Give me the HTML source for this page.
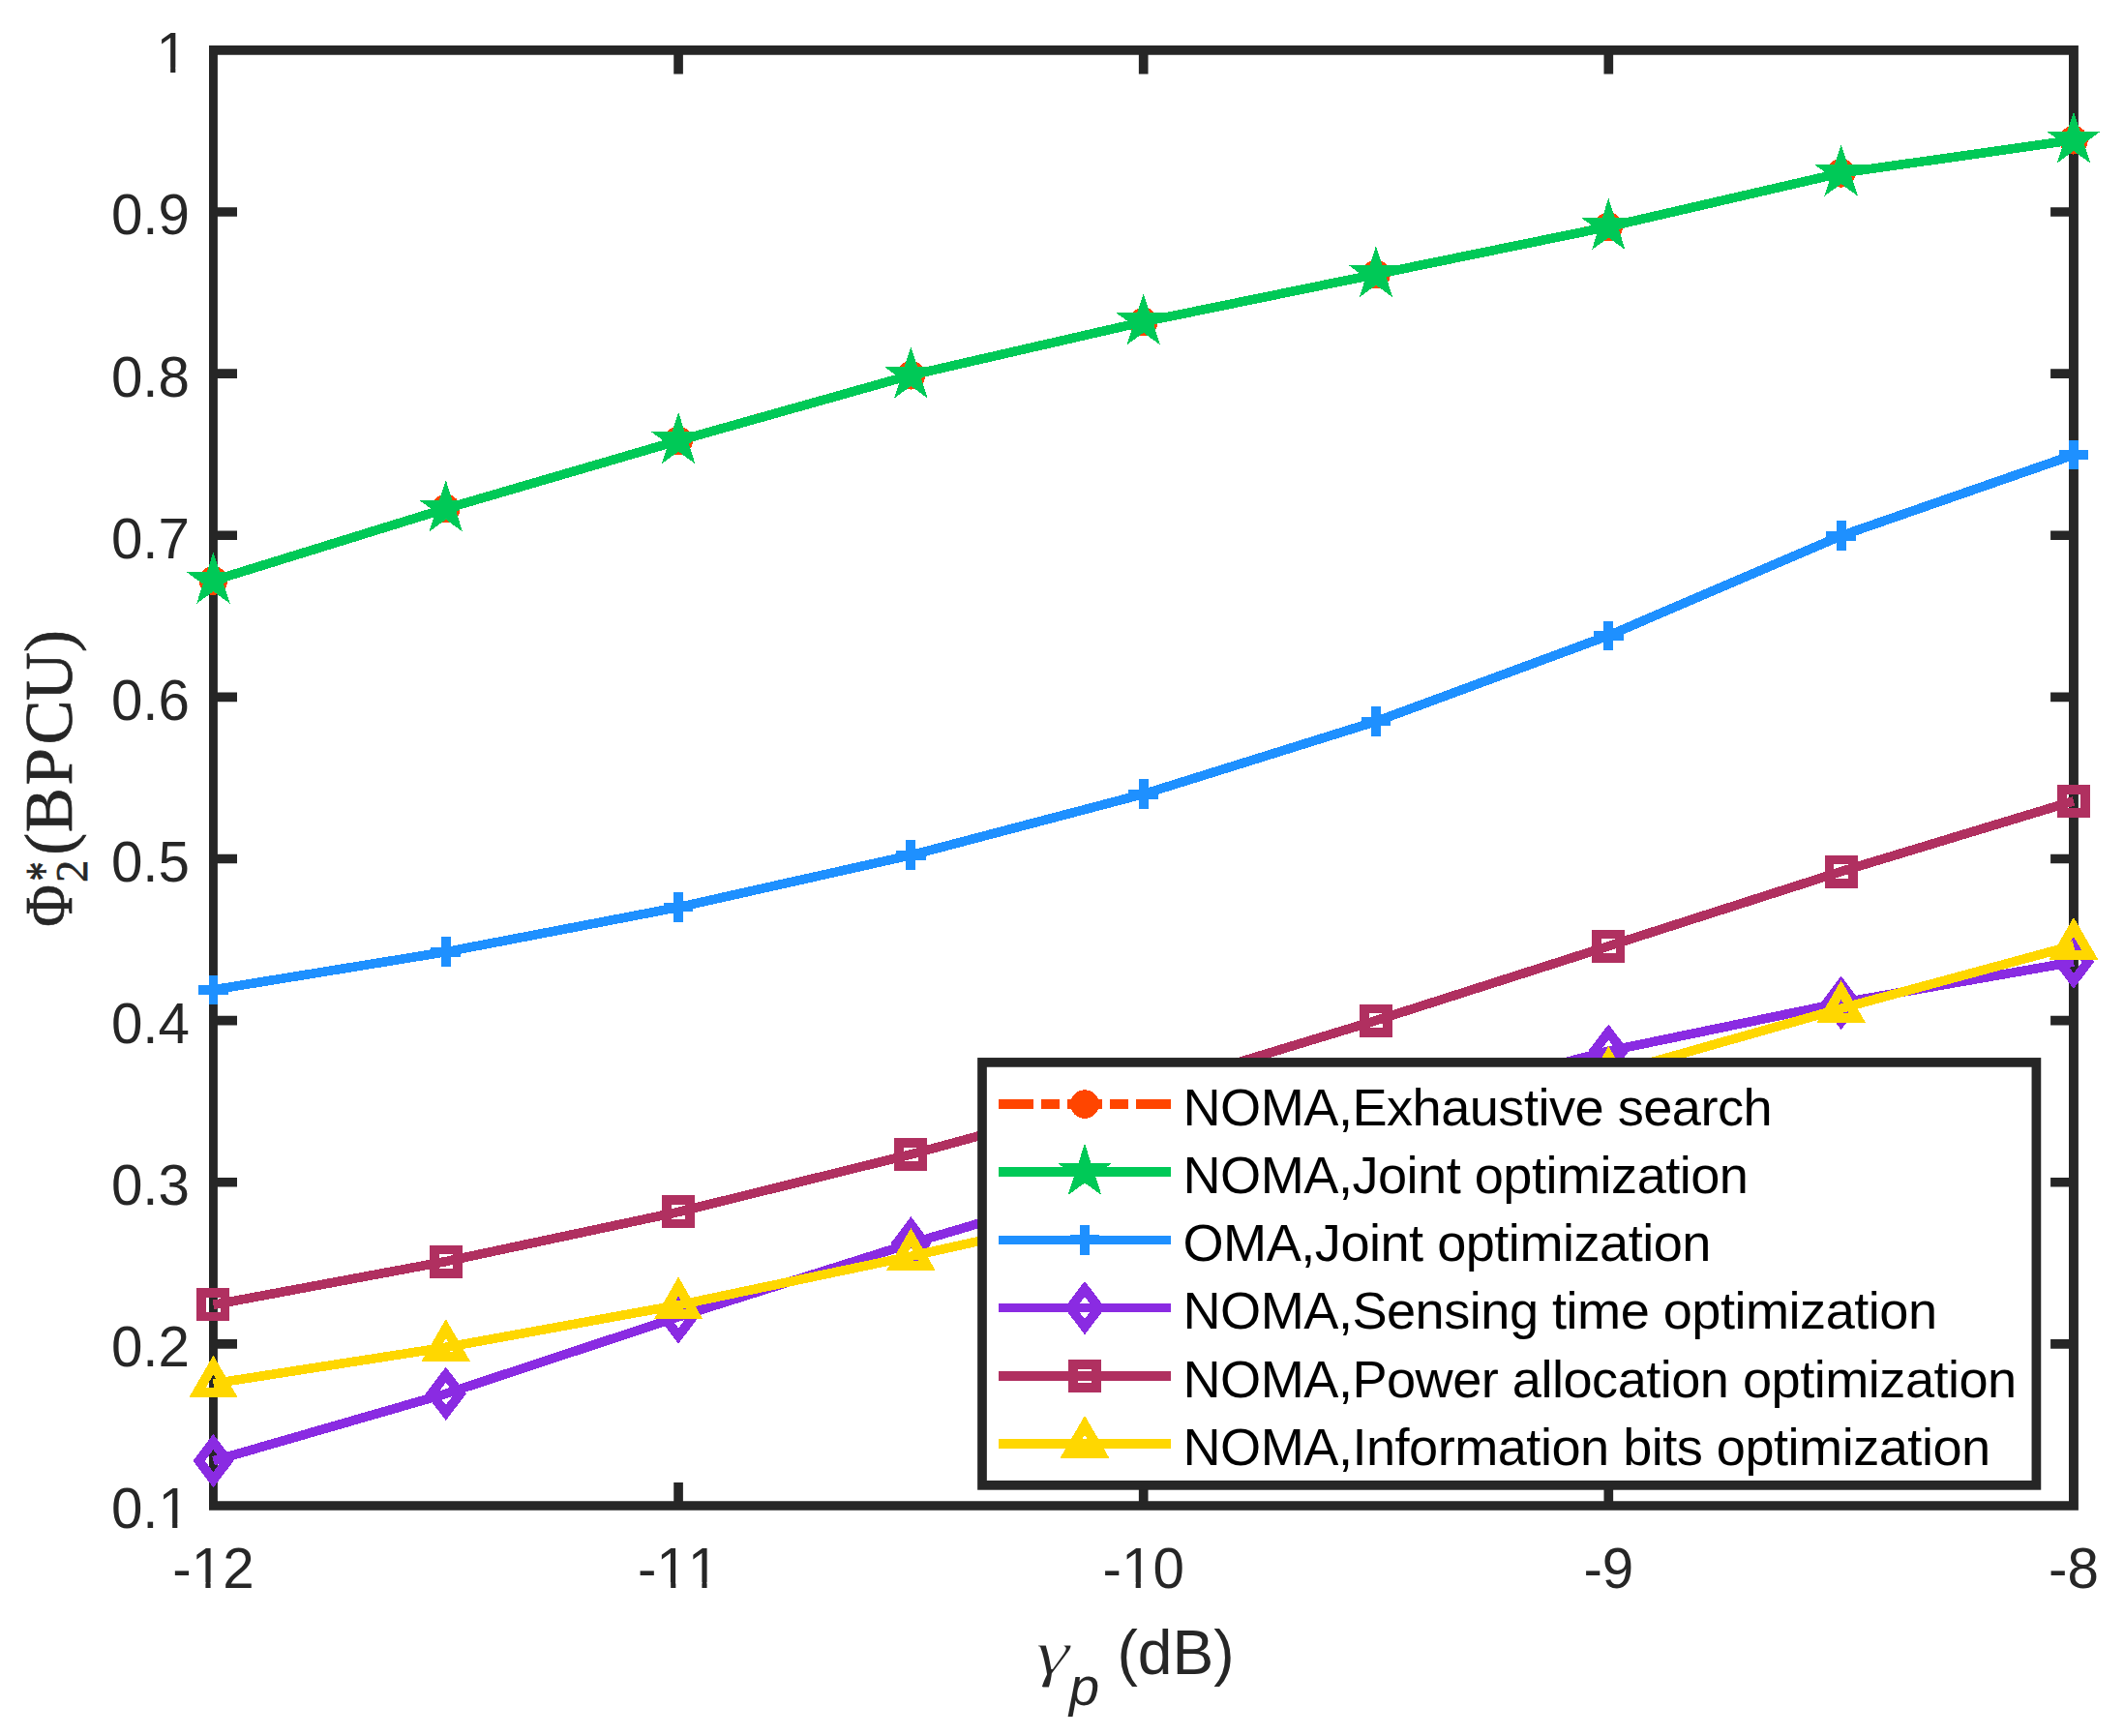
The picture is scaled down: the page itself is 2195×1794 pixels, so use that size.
<!DOCTYPE html>
<html lang="en"><head><meta charset="utf-8"><title>NOMA vs OMA throughput</title>
<style>html,body{margin:0;padding:0;background:#fff}svg{display:block}.t{font-family:"Liberation Sans",sans-serif;font-size:58.33px;fill:#262626;font-kerning:none}.lg{font-family:"Liberation Sans",sans-serif;font-size:54.17px;fill:#000;letter-spacing:-0.52px}.xl{font-family:"Liberation Sans",sans-serif;font-size:64.17px;fill:#262626}.yl{font-family:"Liberation Serif",serif;font-size:69px;fill:#262626;stroke:#262626;stroke-width:0.7px}</style></head><body>
<svg width="2195" height="1794" viewBox="0 0 2195 1794">
<rect width="2195" height="1794" fill="#fff"/>
<path fill="#262626" fill-rule="evenodd" d="M216 47H2147.9V1560.75H216ZM224.9 56.65H2138V1551.15H224.9Z"/>
<g fill="none" stroke="#262626" stroke-width="9.65" stroke-linecap="butt">
<path d="M701.07 1552V1531.9M701.07 56V76.5M1181.7 1552V1531.9M1181.7 56V76.5M1662.32 1552V1531.9M1662.32 56V76.5M224 1388.83H245M2139 1388.83H2119.1M224 1221.7H245M2139 1221.7H2119.1M224 1054.58H245M2139 1054.58H2119.1M224 887.45H245M2139 887.45H2119.1M224 720.33H245M2139 720.33H2119.1M224 553.2H245M2139 553.2H2119.1M224 386.08H245M2139 386.08H2119.1M224 218.95H245M2139 218.95H2119.1"/>
</g>
<g class="t" text-anchor="middle">
<text x="220.45" y="1640.6">-12</text>
<text x="701.07" y="1640.6">-11</text>
<text x="1181.7" y="1640.6">-10</text>
<text x="1662.32" y="1640.6">-9</text>
<text x="2142.95" y="1640.6">-8</text>
</g>
<g class="t" text-anchor="end">
<text x="196" y="1579.45">0.1</text>
<text x="196" y="1412.33">0.2</text>
<text x="196" y="1245.2">0.3</text>
<text x="196" y="1078.08">0.4</text>
<text x="196" y="910.95">0.5</text>
<text x="196" y="743.83">0.6</text>
<text x="196" y="576.7">0.7</text>
<text x="196" y="409.58">0.8</text>
<text x="196" y="242.45">0.9</text>
<text x="194" y="75.33">1</text>
</g>
<path fill="#fff" d="M164.5 69.75H176.17V76.05H164.5ZM181.34 69.75H192.5V76.05H181.34ZM166.5 1573.95H178.17V1580.25H166.5ZM183.34 1573.95H194.5V1580.25H183.34ZM200.5 1635.1H212.41V1641.4H200.5ZM217.59 1635.1H228.5V1641.4H217.59ZM681.5 1635.1H693.17V1641.4H681.5ZM698.34 1635.1H709.5V1641.4H698.34ZM713.5 1635.1H725.41V1641.4H713.5ZM730.59 1635.1H741.5V1641.4H730.59ZM1161.5 1635.1H1173.66V1641.4H1161.5ZM1178.83 1635.1H1190.5V1641.4H1178.83Z"/>
<text class="xl" x="1154.5" y="1729.7">(dB)</text>
<text transform="translate(1070.5 1729.7) scale(1.34 1)" style="font-family:'Liberation Serif',serif;font-style:italic;font-size:66px;fill:#262626;stroke:#fff;stroke-width:1.2px">γ</text>
<text x="1105" y="1762.3" style="font-family:'Liberation Sans',sans-serif;font-style:italic;font-size:56px;fill:#262626">p</text>
<g class="yl" transform="translate(73.8 0) rotate(-90)">
<text transform="translate(-957.7 0) scale(0.862 1)">Φ</text>
<text transform="translate(-910.5 -10.7) scale(0.83 1.083)" style="font-size:48px">*</text>
<text x="-911.9" y="16.3" style="font-size:46.5px">2</text>
<text x="-883.65 -860.35 -811.4 -769.4 -723.9 -674.05" y="0">(BPCU)</text>
</g>
<g stroke="#FF4500" stroke-width="9.6" fill="none" stroke-linejoin="miter" stroke-miterlimit="10" shape-rendering="crispEdges">
<polyline stroke-linejoin="round" stroke-dasharray="36 8 19 8" points="220.45,600 460.76,525.63 701.07,455.44 941.39,387.75 1181.7,332.6 1422.01,283.46 1662.32,234.33 1902.64,178.84 2142.95,144.75"/>
<g fill="#FF4500" stroke="none">
<circle cx="220.45" cy="600" r="14.8"/>
<circle cx="460.76" cy="525.63" r="14.8"/>
<circle cx="701.07" cy="455.44" r="14.8"/>
<circle cx="941.39" cy="387.75" r="14.8"/>
<circle cx="1181.7" cy="332.6" r="14.8"/>
<circle cx="1422.01" cy="283.46" r="14.8"/>
<circle cx="1662.32" cy="234.33" r="14.8"/>
<circle cx="1902.64" cy="178.84" r="14.8"/>
<circle cx="2142.95" cy="144.75" r="14.8"/>
</g></g>
<g stroke="#00C957" stroke-width="9.6" fill="none" stroke-linejoin="miter" stroke-miterlimit="10" shape-rendering="crispEdges">
<polyline stroke-linejoin="round" points="220.45,600 460.76,525.63 701.07,455.44 941.39,387.75 1181.7,332.6 1422.01,283.46 1662.32,234.33 1902.64,178.84 2142.95,144.75"/>
<g fill="#00C957" stroke="none">
<polygon points="220.45,570.5 227.07,590.88 248.51,590.88 231.17,603.48 237.79,623.86 220.45,611.27 203.11,623.86 209.73,603.48 192.39,590.88 213.83,590.88"/>
<polygon points="460.76,496.13 467.39,516.51 488.82,516.51 471.48,529.11 478.1,549.49 460.76,536.9 443.42,549.49 450.05,529.11 432.71,516.51 454.14,516.51"/>
<polygon points="701.07,425.94 707.7,446.32 729.13,446.32 711.79,458.92 718.41,479.3 701.07,466.7 683.74,479.3 690.36,458.92 673.02,446.32 694.45,446.32"/>
<polygon points="941.39,358.25 948.01,378.63 969.44,378.63 952.1,391.23 958.73,411.62 941.39,399.02 924.05,411.62 930.67,391.23 913.33,378.63 934.76,378.63"/>
<polygon points="1181.7,303.1 1188.32,323.48 1209.76,323.48 1192.42,336.08 1199.04,356.47 1181.7,343.87 1164.36,356.47 1170.98,336.08 1153.64,323.48 1175.08,323.48"/>
<polygon points="1422.01,253.96 1428.64,274.35 1450.07,274.35 1432.73,286.95 1439.35,307.33 1422.01,294.73 1404.67,307.33 1411.3,286.95 1393.96,274.35 1415.39,274.35"/>
<polygon points="1662.32,204.83 1668.95,225.21 1690.38,225.21 1673.04,237.81 1679.66,258.2 1662.32,245.6 1644.99,258.2 1651.61,237.81 1634.27,225.21 1655.7,225.21"/>
<polygon points="1902.64,149.34 1909.26,169.73 1930.69,169.73 1913.35,182.33 1919.98,202.71 1902.64,190.11 1885.3,202.71 1891.92,182.33 1874.58,169.73 1896.01,169.73"/>
<polygon points="2142.95,115.25 2149.57,135.64 2171.01,135.64 2153.67,148.23 2160.29,168.62 2142.95,156.02 2125.61,168.62 2132.23,148.23 2114.89,135.64 2136.33,135.64"/>
</g></g>
<g stroke="#1E90FF" stroke-width="9.6" fill="none" stroke-linejoin="miter" stroke-miterlimit="10" shape-rendering="crispEdges">
<polyline stroke-linejoin="round" points="220.45,1022.82 460.76,983.72 701.07,937.59 941.39,883.78 1181.7,820.6 1422.01,745.56 1662.32,656.82 1902.64,553.7 2142.95,470.14"/>
<g stroke-width="9.8">
<path d="M205.15 1022.82H235.75M220.45 1007.52V1038.12"/>
<path d="M445.46 983.72H476.06M460.76 968.42V999.02"/>
<path d="M685.77 937.59H716.37M701.07 922.29V952.89"/>
<path d="M926.09 883.78H956.69M941.39 868.48V899.08"/>
<path d="M1166.4 820.6H1197M1181.7 805.3V835.9"/>
<path d="M1406.71 745.56H1437.31M1422.01 730.26V760.86"/>
<path d="M1647.02 656.82H1677.62M1662.32 641.52V672.12"/>
<path d="M1887.34 553.7H1917.94M1902.64 538.4V569"/>
<path d="M2127.65 470.14H2158.25M2142.95 454.84V485.44"/>
</g></g>
<g stroke="#8A2BE2" stroke-width="9.6" fill="none" stroke-linejoin="miter" stroke-miterlimit="10" shape-rendering="crispEdges">
<polyline stroke-linejoin="round" points="220.45,1509.66 460.76,1440.3 701.07,1360.92 941.39,1285.04 1181.7,1214.01 1422.01,1148.5 1662.32,1086.16 1902.64,1036.36 2142.95,994.08"/>
<g stroke-width="9.8">
<path d="M220.45 1490.06L235.35 1509.66L220.45 1529.26L205.55 1509.66Z"/>
<path d="M460.76 1420.7L475.66 1440.3L460.76 1459.9L445.86 1440.3Z"/>
<path d="M701.07 1341.32L715.97 1360.92L701.07 1380.52L686.17 1360.92Z"/>
<path d="M941.39 1265.44L956.29 1285.04L941.39 1304.64L926.49 1285.04Z"/>
<path d="M1181.7 1194.41L1196.6 1214.01L1181.7 1233.61L1166.8 1214.01Z"/>
<path d="M1422.01 1128.9L1436.91 1148.5L1422.01 1168.1L1407.11 1148.5Z"/>
<path d="M1662.32 1066.56L1677.22 1086.16L1662.32 1105.76L1647.42 1086.16Z"/>
<path d="M1902.64 1016.76L1917.54 1036.36L1902.64 1055.96L1887.74 1036.36Z"/>
<path d="M2142.95 974.48L2157.85 994.08L2142.95 1013.68L2128.05 994.08Z"/>
</g></g>
<g stroke="#B03060" stroke-width="9.6" fill="none" stroke-linejoin="miter" stroke-miterlimit="10" shape-rendering="crispEdges">
<polyline stroke-linejoin="round" points="220.45,1348.38 460.76,1303.59 701.07,1252.45 941.39,1192.96 1181.7,1127.61 1422.01,1054.58 1662.32,977.7 1902.64,900.66 2142.95,827.79"/>
<g stroke-width="9.8">
<rect x="208.35" y="1336.28" width="24.2" height="24.2"/>
<rect x="448.66" y="1291.49" width="24.2" height="24.2"/>
<rect x="688.97" y="1240.35" width="24.2" height="24.2"/>
<rect x="929.29" y="1180.86" width="24.2" height="24.2"/>
<rect x="1169.6" y="1115.51" width="24.2" height="24.2"/>
<rect x="1409.91" y="1042.48" width="24.2" height="24.2"/>
<rect x="1650.22" y="965.6" width="24.2" height="24.2"/>
<rect x="1890.54" y="888.56" width="24.2" height="24.2"/>
<rect x="2130.85" y="815.69" width="24.2" height="24.2"/>
</g></g>
<g stroke="#FFD700" stroke-width="9.6" fill="none" stroke-linejoin="miter" stroke-miterlimit="10" shape-rendering="crispEdges">
<polyline stroke-linejoin="round" points="220.45,1429.77 460.76,1392.34 701.07,1348.72 941.39,1298.24 1181.7,1244.6 1422.01,1177.41 1662.32,1110.23 1902.64,1042.21 2142.95,977.03"/>
<g stroke-width="10">
<path d="M220.45 1410.57L237.08 1439.37L203.82 1439.37Z"/>
<path d="M460.76 1373.14L477.39 1401.94L444.13 1401.94Z"/>
<path d="M701.07 1329.52L717.7 1358.32L684.45 1358.32Z"/>
<path d="M941.39 1279.04L958.02 1307.84L924.76 1307.84Z"/>
<path d="M1181.7 1225.4L1198.33 1254.2L1165.07 1254.2Z"/>
<path d="M1422.01 1158.21L1438.64 1187.01L1405.38 1187.01Z"/>
<path d="M1662.32 1091.03L1678.95 1119.83L1645.7 1119.83Z"/>
<path d="M1902.64 1023.01L1919.27 1051.81L1886.01 1051.81Z"/>
<path d="M2142.95 957.83L2159.58 986.63L2126.32 986.63Z"/>
</g></g>
<rect x="1015" y="1097.9" width="1089.4" height="436.96" fill="#fff" stroke="#262626" stroke-width="9.7"/>
<g stroke="#FF4500" stroke-width="9.6" fill="none" stroke-miterlimit="10" shape-rendering="crispEdges">
<path stroke-dasharray="36 8 19 8" d="M1032 1141.1H1210"/>
<g fill="#FF4500" stroke="none"><circle cx="1121" cy="1141.1" r="14.8"/></g>
</g>
<text class="lg" x="1222.5" y="1162.9">NOMA,Exhaustive search</text>
<g stroke="#00C957" stroke-width="9.6" fill="none" stroke-miterlimit="10" shape-rendering="crispEdges">
<path d="M1032 1211.2H1210"/>
<g fill="#00C957" stroke="none"><polygon points="1121,1181.7 1127.62,1202.08 1149.06,1202.08 1131.72,1214.68 1138.34,1235.07 1121,1222.47 1103.66,1235.07 1110.28,1214.68 1092.94,1202.08 1114.38,1202.08"/></g>
</g>
<text class="lg" x="1222.5" y="1233">NOMA,Joint optimization</text>
<g stroke="#1E90FF" stroke-width="9.6" fill="none" stroke-miterlimit="10" shape-rendering="crispEdges">
<path d="M1032 1281.3H1210"/>
<g stroke-width="9.8"><path d="M1105.7 1281.3H1136.3M1121 1266V1296.6"/></g>
</g>
<text class="lg" x="1222.5" y="1303.1">OMA,Joint optimization</text>
<g stroke="#8A2BE2" stroke-width="9.6" fill="none" stroke-miterlimit="10" shape-rendering="crispEdges">
<path d="M1032 1351.6H1210"/>
<g stroke-width="9.8"><path d="M1121 1332L1135.9 1351.6L1121 1371.2L1106.1 1351.6Z"/></g>
</g>
<text class="lg" x="1222.5" y="1373.4">NOMA,Sensing time optimization</text>
<g stroke="#B03060" stroke-width="9.6" fill="none" stroke-miterlimit="10" shape-rendering="crispEdges">
<path d="M1032 1421.9H1210"/>
<g stroke-width="9.8"><rect x="1108.9" y="1409.8" width="24.2" height="24.2"/></g>
</g>
<text class="lg" x="1222.5" y="1443.7">NOMA,Power allocation optimization</text>
<g stroke="#FFD700" stroke-width="9.6" fill="none" stroke-miterlimit="10" shape-rendering="crispEdges">
<path d="M1032 1492H1210"/>
<g stroke-width="10"><path d="M1121 1472.8L1137.63 1501.6L1104.37 1501.6Z"/></g>
</g>
<text class="lg" x="1222.5" y="1513.8">NOMA,Information bits optimization</text>
</svg></body></html>
